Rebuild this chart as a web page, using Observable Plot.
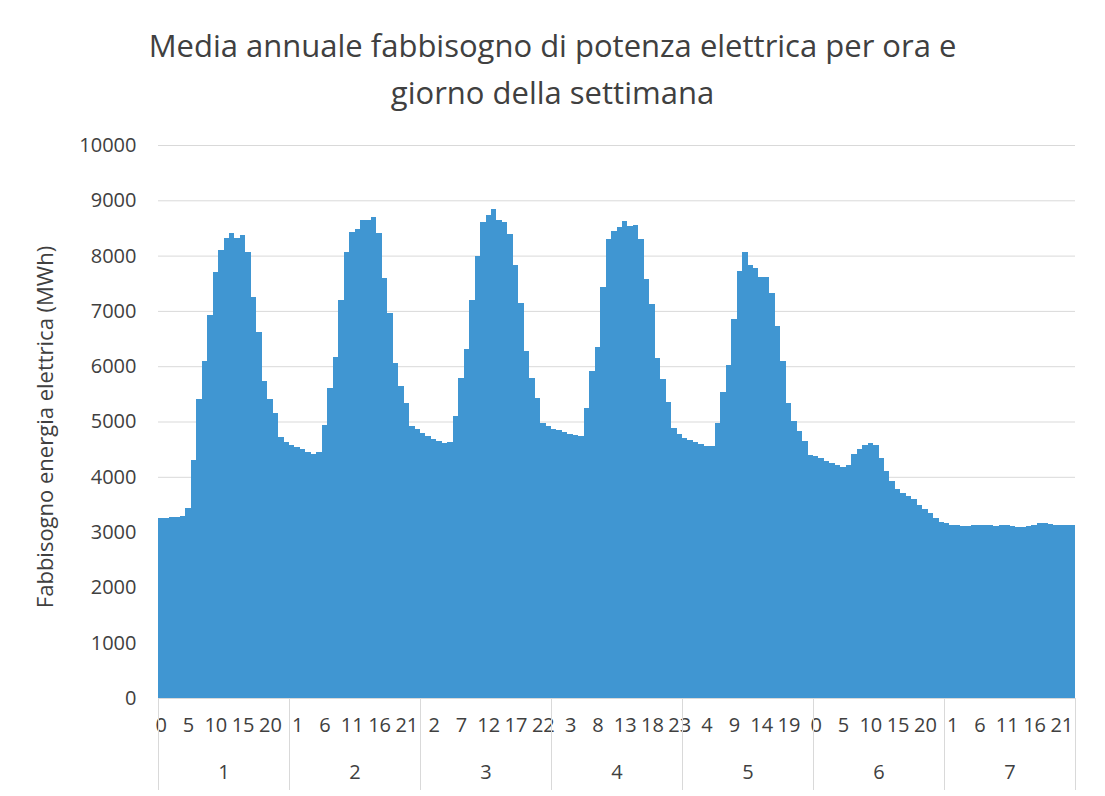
<!DOCTYPE html>
<html>
<head>
<meta charset="utf-8">
<script src="https://cdn.jsdelivr.net/npm/d3@7"></script>
<script src="https://cdn.jsdelivr.net/npm/@observablehq/plot@0.6"></script>
<style>
  html, body { margin: 0; padding: 0; background: #fff; }
  #wrap { width: 1105px; height: 796px; position: relative; overflow: hidden; }
  #title { height: 120px; box-sizing: border-box; padding-top: 22px; text-align: center;
           font-family: "Open Sans", sans-serif; font-size: 31px; line-height: 47px; color: #404040; }
</style>
</head>
<body>
<div id="wrap">
  <div id="title">Media annuale fabbisogno di potenza elettrica per ora e<br>giorno della settimana</div>
  <div id="chart"></div>
</div>
<script>
const days = [1, 2, 3, 4, 5, 6, 7];
const day1 = [3250,3260,3270,3280,3290,3440,4300,5410,6100,6930,7710,8110,8320,8400,8310,8370,8070,7260,6620,5730,5410,5160,4720,4630];
const day2 = [4570,4540,4500,4450,4420,4440,4940,5600,6160,7190,8070,8430,8490,8650,8650,8700,8400,7590,6960,6060,5640,5340,4920,4860];
const day3 = [4790,4740,4690,4650,4610,4630,5100,5790,6320,7200,8000,8610,8730,8840,8650,8610,8390,7830,7140,6270,5780,5430,4980,4920];
const day4 = [4870,4840,4810,4780,4750,4730,5250,5920,6350,7430,8300,8450,8510,8620,8540,8560,8300,7580,7120,6140,5770,5350,4890,4780];
const day5 = [4700,4670,4630,4590,4550,4560,4980,5530,6020,6850,7730,8060,7830,7780,7620,7610,7320,6730,6100,5340,5010,4830,4650,4400];
const day6 = [4380,4340,4290,4250,4220,4180,4210,4410,4510,4580,4610,4570,4340,4110,3930,3780,3710,3650,3590,3490,3410,3340,3250,3190];
const day7 = [3160,3130,3120,3110,3110,3120,3130,3130,3120,3110,3120,3120,3110,3100,3100,3110,3130,3160,3160,3140,3120,3120,3120,3120];
const hourTickLabels = [0,5,10,15,20, 1,6,11,16,21, 2,7,12,17,22, 3,8,13,18,23, 4,9,14,19, 0,5,10,15,20, 1,6,11,16,21];
const yTicks = [0,1000,2000,3000,4000,5000,6000,7000,8000,9000,10000];
const yTitle = "Fabbisogno energia elettrica (MWh)";
const hoursPerDay = 24;
const tickEvery = 5;

const series = [day1, day2, day3, day4, day5, day6, day7];
const table = series.flatMap((vals, di) => vals.map((v, h) => ({i: di * hoursPerDay + h, day: days[di], hour: h, value: v})));
const hourTicks = hourTickLabels.map((lab, k) => ({pos: k * tickEvery + 0.5, label: String(lab)}));
const dayBoundaries = [0, ...days.map(d => d * hoursPerDay)];
const nBars = days.length * hoursPerDay;

const textColor = "#404040";
const gridColor = "#d9d9d9";
const barColor = "#4096d2";

const chart = Plot.plot({
  width: 1105,
  height: 676,
  marginTop: 25,
  marginBottom: 98,
  marginLeft: 158,
  marginRight: 30,
  style: {fontFamily: "'Open Sans', sans-serif", fontSize: "20px", color: textColor, background: "#fff", overflow: "visible"},
  x: {domain: [0, nBars], axis: null},
  y: {domain: [0, 10000], axis: null},
  marks: [
    Plot.gridY(yTicks, {stroke: gridColor, strokeOpacity: 1}),
    Plot.rect(table, {x1: "i", x2: d => d.i + 1, y1: 0, y2: "value", fill: barColor, shapeRendering: "crispEdges"}),
    Plot.ruleY([0], {stroke: gridColor}),
    Plot.axisY(yTicks, {tickSize: 0, tickPadding: 22, tickFormat: d => String(d), label: null, fill: textColor}),
    Plot.text(hourTicks, {x: "pos", text: "label", frameAnchor: "bottom", dy: 33, fill: textColor}),
    Plot.axisX(dayBoundaries, {tickSize: 92, tickFormat: () => "", label: null, stroke: gridColor}),
    Plot.text(days, {x: d => (d - 1) * hoursPerDay + hoursPerDay / 2, text: d => String(d), frameAnchor: "bottom", dy: 80, fill: textColor}),
    Plot.text([yTitle], {frameAnchor: "left", textAnchor: "middle", rotate: -90, dx: -113, dy: 5, fontSize: 22, fill: textColor})
  ]
});
document.getElementById("chart").appendChild(chart);
</script>
</body>
</html>
